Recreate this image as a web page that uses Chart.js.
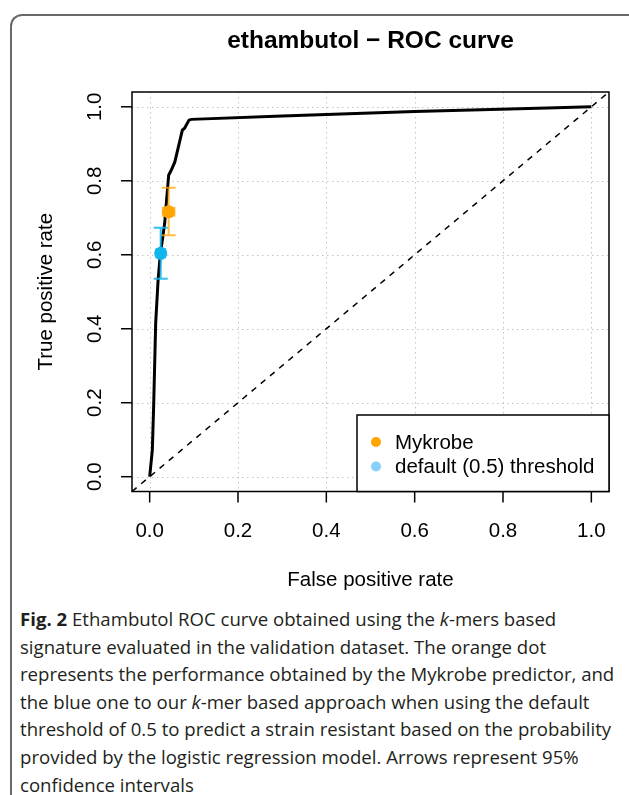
<!DOCTYPE html>
<html>
<head>
<meta charset="utf-8">
<script src="https://cdn.jsdelivr.net/npm/chart.js@4"></script>
<style>
html, body { margin: 0; padding: 0; background: #fff; }
body { width: 629px; height: 795px; position: relative; overflow: hidden; }
#frame { position: absolute; left: 10px; top: 14px; width: 700px; height: 900px;
  border-left: 2px solid #6a6a6a; border-top: 2px solid #6a6a6a; border-top-left-radius: 12px; }
#chart { position: absolute; left: 0; top: 0; }
#cap { position: absolute; left: 20px; top: 605px; font-family: "Open Sans"; font-size: 18.6px;
  line-height: 27.6px; color: #231f20; white-space: nowrap; }
</style>
</head>
<body>
<div id="frame"></div>
<canvas id="chart" width="629" height="600"></canvas>
<div id="cap">
<b>Fig. 2</b> Ethambutol ROC curve obtained using the <i>k</i>-mers based<br>
signature evaluated in the validation dataset. The orange dot<br>
represents the performance obtained by the Mykrobe predictor, and<br>
the blue one to our <i>k</i>-mer based approach when using the default<br>
threshold of 0.5 to predict a strain resistant based on the probability<br>
provided by the logistic regression model. Arrows represent 95%<br>
confidence intervals
</div>
<script>
// ROC curve
const rocFpr = [0, 0.0015, 0.006, 0.009, 0.0136, 0.019, 0.024, 0.034, 0.039, 0.043, 0.049, 0.057, 0.074, 0.079, 0.089, 0.094, 0.3, 0.6, 0.9, 1.0];
const rocTpr = [0, 0.018, 0.072, 0.19, 0.415, 0.53, 0.60, 0.685, 0.757, 0.815, 0.829, 0.851, 0.937, 0.942, 0.964, 0.966, 0.975, 0.987, 0.997, 1.0];

// reference diagonal (abline through the whole plot region)
const diagX = [-0.04, 1.04];
const diagY = [-0.04, 1.04];

// Mykrobe and default threshold points with 95% CI
const mykrobe = { x: 0.043, y: 0.716 };
const mykrobeXci = [0.030, 0.056];
const mykrobeYci = [0.653, 0.781];
const deflt = { x: 0.025, y: 0.604 };
const defltXci = [0.015, 0.035];
const defltYci = [0.535, 0.673];

const tickVals = [0, 0.2, 0.4, 0.6, 0.8, 1.0];
const tickLabels = ['0.0', '0.2', '0.4', '0.6', '0.8', '1.0'];
const legendLabels = ['Mykrobe', 'default (0.5) threshold'];

const orange = '#ffa500';
const blue = '#12b4ec';
const legendColors = [orange, '#87cefa'];

const txtFont = '20.5px "Liberation Sans", Arial, sans-serif';

const rPlot = {
  id: 'rPlot',
  beforeDatasetsDraw(chart) {
    const { ctx, chartArea: a, scales: { x, y } } = chart;
    ctx.save();
    ctx.strokeStyle = '#c4c4c4';
    ctx.lineWidth = 1;
    ctx.setLineDash([1.5, 3.5]);
    tickVals.forEach(v => {
      const px = Math.round(x.getPixelForValue(v)) + 0.5;
      const py = Math.round(y.getPixelForValue(v)) + 0.5;
      ctx.beginPath(); ctx.moveTo(px, a.top); ctx.lineTo(px, a.bottom); ctx.stroke();
      ctx.beginPath(); ctx.moveTo(a.left, py); ctx.lineTo(a.right, py); ctx.stroke();
    });
    ctx.restore();
  },
  afterDatasetDraw(chart, args) {
    if (args.index !== 2) return;
    const { ctx, scales: { x, y } } = chart;
    const bar = (pt, xci, yci, col) => {
      const px = x.getPixelForValue(pt.x), py = y.getPixelForValue(pt.y);
      const y0 = y.getPixelForValue(yci[0]), y1 = y.getPixelForValue(yci[1]);
      const x0 = x.getPixelForValue(xci[0]), x1 = x.getPixelForValue(xci[1]);
      ctx.strokeStyle = col;
      ctx.lineWidth = 2;
      ctx.beginPath();
      ctx.moveTo(px, y0); ctx.lineTo(px, y1);
      ctx.moveTo(px - 7, y0); ctx.lineTo(px + 7, y0);
      ctx.moveTo(px - 7, y1); ctx.lineTo(px + 7, y1);
      ctx.moveTo(x0, py); ctx.lineTo(x1, py);
      ctx.moveTo(x0, py - 5); ctx.lineTo(x0, py + 5);
      ctx.moveTo(x1, py - 5); ctx.lineTo(x1, py + 5);
      ctx.stroke();
    };
    ctx.save();
    bar(mykrobe, mykrobeXci, mykrobeYci, 'rgba(255,165,0,0.75)');
    bar(deflt, defltXci, defltYci, 'rgba(18,180,236,0.85)');
    ctx.restore();
  },
  afterDraw(chart) {
    const { ctx, chartArea: a, scales: { x, y } } = chart;
    ctx.save();
    ctx.strokeStyle = '#000';
    ctx.lineWidth = 1.5;
    ctx.strokeRect(a.left, a.top, a.right - a.left, a.bottom - a.top);

    ctx.fillStyle = '#000';
    ctx.font = txtFont;
    ctx.textAlign = 'center';
    ctx.textBaseline = 'middle';
    tickVals.forEach((v, i) => {
      const px = x.getPixelForValue(v);
      ctx.beginPath(); ctx.moveTo(px, a.bottom); ctx.lineTo(px, a.bottom + 11); ctx.stroke();
      ctx.fillText(tickLabels[i], px, 531);
      const py = y.getPixelForValue(v);
      ctx.beginPath(); ctx.moveTo(a.left, py); ctx.lineTo(a.left - 11, py); ctx.stroke();
      ctx.save();
      ctx.translate(95, py);
      ctx.rotate(-Math.PI / 2);
      ctx.fillText(tickLabels[i], 0, 0);
      ctx.restore();
    });

    // axis titles and main title
    ctx.fillText('False positive rate', (a.left + a.right) / 2, 580);
    ctx.save();
    ctx.translate(46, (a.top + a.bottom) / 2);
    ctx.rotate(-Math.PI / 2);
    ctx.fillText('True positive rate', 0, 0);
    ctx.restore();
    ctx.font = 'bold 24.5px "Liberation Sans", Arial, sans-serif';
    ctx.fillText('ethambutol \u2212 ROC curve', (a.left + a.right) / 2, 41);

    // legend in the bottom right corner
    const lx = 357, ly = 415;
    ctx.fillStyle = '#fff';
    ctx.fillRect(lx, ly, a.right - lx, a.bottom - ly);
    ctx.strokeRect(lx, ly, a.right - lx, a.bottom - ly);
    ctx.font = txtFont;
    ctx.textAlign = 'left';
    legendLabels.forEach((t, i) => {
      const cy = 442 + i * 24.5;
      ctx.fillStyle = legendColors[i];
      ctx.beginPath(); ctx.arc(376, cy, 5, 0, Math.PI * 2); ctx.fill();
      ctx.fillStyle = '#000';
      ctx.fillText(t, 395, cy + 1);
    });
    ctx.restore();
  }
};

new Chart(document.getElementById('chart'), {
  type: 'scatter',
  data: {
    datasets: [
      { label: legendLabels[0], data: [mykrobe], backgroundColor: orange, borderWidth: 0, pointRadius: 6.5 },
      { label: legendLabels[1], data: [deflt], backgroundColor: blue, borderWidth: 0, pointRadius: 6.5 },
      {
        label: 'ROC', data: rocFpr.map((v, i) => ({ x: v, y: rocTpr[i] })),
        showLine: true, borderColor: '#000', borderWidth: 3, pointRadius: 0, tension: 0
      },
      {
        label: 'diag', data: diagX.map((v, i) => ({ x: v, y: diagY[i] })),
        showLine: true, borderColor: '#000', borderWidth: 1.5, borderDash: [6, 6], pointRadius: 0
      }
    ]
  },
  options: {
    responsive: false,
    animation: false,
    layout: { padding: { left: 132, right: 20, top: 92, bottom: 108.5 } },
    scales: {
      x: { type: 'linear', min: -0.04, max: 1.04, display: false },
      y: { type: 'linear', min: -0.04, max: 1.04, display: false }
    },
    plugins: { legend: { display: false }, tooltip: { enabled: false } }
  },
  plugins: [rPlot]
});
</script>
</body>
</html>
